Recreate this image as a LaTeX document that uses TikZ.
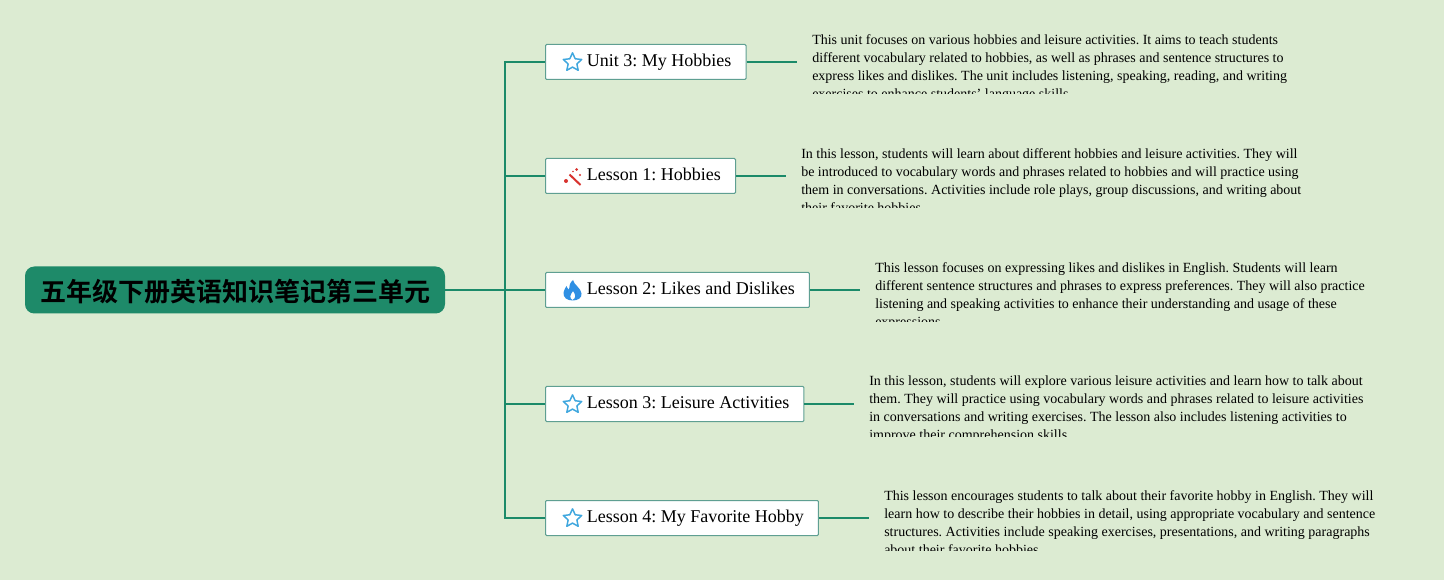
\documentclass[tikz,border=0pt]{standalone}
\usepackage{fontspec}
\setmainfont{Liberation Serif}
\newfontfamily\cjkbold{Noto Sans CJK SC Bold}
\usetikzlibrary{shapes.geometric}
\definecolor{bgpaper}{HTML}{DCEBD2}
\definecolor{branchline}{HTML}{1B8A69}
\definecolor{boxline}{HTML}{5F9F92}
\definecolor{rootfill}{HTML}{1E8A69}
\definecolor{starblue}{HTML}{3FA7DE}
\definecolor{flameblue}{HTML}{2F8FE3}
\definecolor{wandred}{HTML}{D8322E}
\tikzset{
  link/.style={draw=branchline, line width=1.5pt},
  rootbox/.style={fill=rootfill, rounded corners=7pt, minimum width=315pt, minimum height=35.25pt, inner sep=0pt,
    font=\cjkbold\fontsize{19.5}{24}\selectfont, text=black, text height=18pt, text depth=0pt},
  topic/.style={draw=boxline, fill=white, line width=0.75pt, rounded corners=0.8pt, minimum height=26.25pt, inner xsep=11pt, inner ysep=0pt,
    font=\fontsize{13.5}{16}\selectfont\frenchspacing, anchor=west, text depth=5pt, text height=11.25pt},
  notetext/.style={anchor=north west, align=left, inner xsep=11.25pt, inner ysep=0pt,
    font=\fontsize{10.5}{13.5}\selectfont\frenchspacing},
  starmark/.style={star, star points=5, star point ratio=2.1, draw=starblue, line width=1.1pt, line join=round,
    minimum size=14.5pt, inner sep=0pt},
}
% description text, cut off after 64px
\newcommand{\notebox}[4]{%
  \begin{scope}
    \clip (#2,#3) rectangle +(620,64);
    \node[notetext] (#1) at (#2,#3+4) {#4};
  \end{scope}
}
\begin{document}
\begin{tikzpicture}[x=0.75pt,y=-0.75pt]
\useasboundingbox (0,0) rectangle (1444,580);
\fill[bgpaper] (0,0) rectangle (1444,580);
% root and trunk
\node[rootbox] (root) at (235,290) {五年级下册英语知识笔记第三单元};
\coordinate (trunk) at (505,290);
% topics
\node[topic] (unit) at (545,62) {\hspace*{20pt}Unit 3: My Hobbies};
\node[topic] (hobbies) at (545,176) {\hspace*{20pt}Lesson 1: Hobbies};
\node[topic] (likes) at (545,290) {\hspace*{20pt}Lesson 2: Likes and Dislikes};
\node[topic] (leisure) at (545,404) {\hspace*{20pt}Lesson 3: Leisure Activities};
\node[topic] (favorite) at (545,518) {\hspace*{20pt}Lesson 4: My Favorite Hobby};
% descriptions
\notebox{unitnote}{797}{30}{This unit focuses on various hobbies and leisure activities. It aims to teach students\\
different vocabulary related to hobbies, as well as phrases and sentence structures to\\
express likes and dislikes. The unit includes listening, speaking, reading, and writing\\
exercises to enhance students\char39{} language skills.}
\notebox{hobbiesnote}{786}{144}{In this lesson, students will learn about different hobbies and leisure activities. They will\\
be introduced to vocabulary words and phrases related to hobbies and will practice using\\
them in conversations. Activities include role plays, group discussions, and writing about\\
their favorite hobbies.}
\notebox{likesnote}{860}{258}{This lesson focuses on expressing likes and dislikes in English. Students will learn\\
different sentence structures and phrases to express preferences. They will also practice\\
listening and speaking activities to enhance their understanding and usage of these\\
expressions.}
\notebox{leisurenote}{854}{372}{In this lesson, students will explore various leisure activities and learn how to talk about\\
them. They will practice using vocabulary words and phrases related to leisure activities\\
in conversations and writing exercises. The lesson also includes listening activities to\\
improve their comprehension skills.}
\notebox{favoritenote}{869}{486}{This lesson encourages students to talk about their favorite hobby in English. They will\\
learn how to describe their hobbies in detail, using appropriate vocabulary and sentence\\
structures. Activities include speaking exercises, presentations, and writing paragraphs\\
about their favorite hobbies.}
% connectors
\draw[link] (root.east) -- (trunk);
\foreach \t/\n in {unit/unitnote,hobbies/hobbiesnote,likes/likesnote,leisure/leisurenote,favorite/favoritenote}{
  \draw[link] (trunk) |- (\t.west);
  \draw[link] (\t.east) -- (\t.east -| \n.west);
}
% icons
\node[starmark] (unitstar) at (572.5,62.5) {};
\node[starmark] (leisurestar) at (572.5,404.5) {};
\node[starmark] (favoritestar) at (572.5,518.5) {};
\draw[wandred, line width=1.5pt] (569.5,174.5) -- (580.5,185);
\fill[wandred] (566,181) circle (2) (576.5,169.5) circle (1.5) (580,175) circle (1.1) (573,171.5) circle (0.9);
\fill[flameblue, even odd rule] (573,280) .. controls (574,285) and (581,288) .. (581.5,293.5)
  .. controls (582,298) and (578,300.5) .. (572.5,300.5) .. controls (567,300.5) and (563,297.5) .. (563.5,292.5)
  .. controls (564,289.5) and (565.5,288) .. (566.5,286) .. controls (567,288) and (568,289) .. (569,289.5)
  .. controls (569,286) and (570,282.5) .. (573,280) -- cycle
  (572.5,300) .. controls (576,298) and (576,295) .. (573,291) .. controls (570,295) and (569,298) .. (572.5,300) -- cycle;
\end{tikzpicture}
\end{document}
